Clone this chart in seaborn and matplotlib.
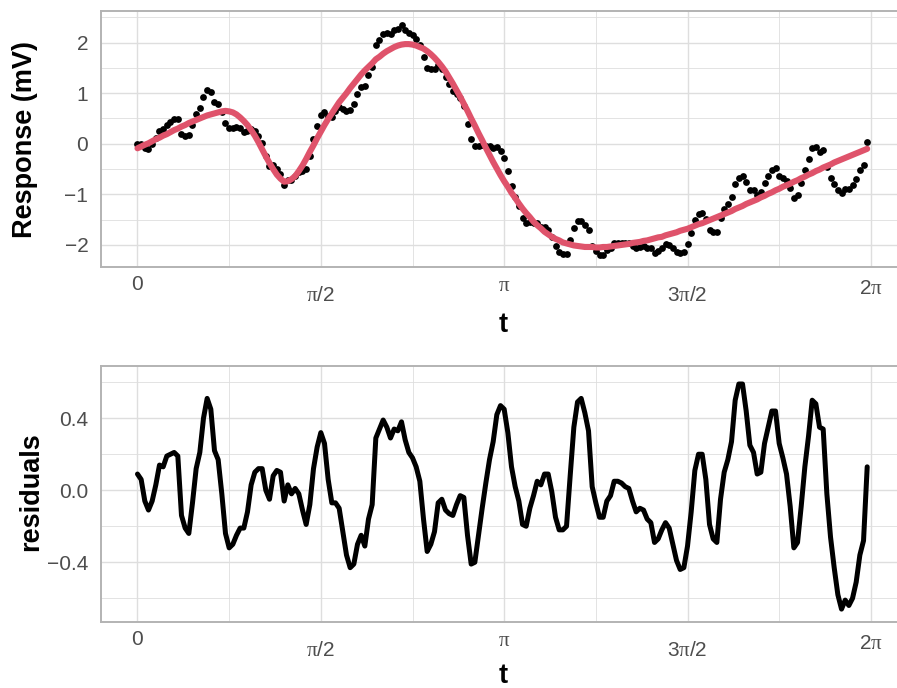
import numpy as np
import pandas as pd
import matplotlib
matplotlib.use("Agg")
import matplotlib.pyplot as plt
import matplotlib.transforms as mtransforms
from matplotlib.ticker import FixedLocator
import seaborn as sns

# ---- data -------------------------------------------------------------
n_points = 200
t = 2 * np.pi * np.arange(n_points) / n_points

fitted = [
    -0.09, -0.055, -0.02, 0.01, 0.05, 0.09, 0.12, 0.16, 0.19, 0.23,
    0.27, 0.30, 0.34, 0.37, 0.41, 0.44, 0.47, 0.50, 0.53, 0.56,
    0.58, 0.60, 0.62, 0.64, 0.65, 0.64, 0.62, 0.58, 0.52, 0.45,
    0.37, 0.27, 0.16, 0.03, -0.11, -0.25, -0.38, -0.50, -0.61, -0.69,
    -0.75, -0.74, -0.70, -0.64, -0.54, -0.43, -0.30, -0.16, -0.03, 0.11,
    0.24, 0.37, 0.49, 0.60, 0.71, 0.82, 0.91, 1.00, 1.10, 1.19,
    1.28, 1.37, 1.45, 1.52, 1.59, 1.67, 1.72, 1.78, 1.83, 1.87,
    1.91, 1.94, 1.96, 1.97, 1.97, 1.96, 1.94, 1.91, 1.88, 1.83,
    1.77, 1.70, 1.62, 1.53, 1.43, 1.31, 1.19, 1.06, 0.93, 0.79,
    0.65, 0.50, 0.36, 0.21, 0.07, -0.08, -0.22, -0.36, -0.49, -0.62,
    -0.74, -0.85, -0.97, -1.07, -1.18, -1.28, -1.37, -1.45, -1.54, -1.61,
    -1.67, -1.74, -1.79, -1.84, -1.88, -1.91, -1.95, -1.97, -1.99, -2.01,
    -2.02, -2.03, -2.04, -2.04, -2.04, -2.05, -2.05, -2.04, -2.04, -2.03,
    -2.02, -2.01, -2.00, -1.99, -1.98, -1.96, -1.95, -1.94, -1.92, -1.91,
    -1.89, -1.87, -1.85, -1.84, -1.81, -1.79, -1.77, -1.75, -1.72, -1.70,
    -1.68, -1.65, -1.62, -1.59, -1.57, -1.54, -1.51, -1.48, -1.45, -1.42,
    -1.39, -1.36, -1.33, -1.29, -1.26, -1.23, -1.19, -1.16, -1.13, -1.10,
    -1.06, -1.03, -0.99, -0.96, -0.92, -0.89, -0.85, -0.82, -0.79, -0.75,
    -0.72, -0.68, -0.65, -0.61, -0.58, -0.54, -0.51, -0.47, -0.44, -0.41,
    -0.37, -0.34, -0.31, -0.28, -0.25, -0.22, -0.19, -0.16, -0.13, -0.10,
]

residuals = [
    0.09, 0.06, -0.06, -0.11, -0.06, 0.03, 0.14, 0.13, 0.19, 0.20,
    0.21, 0.19, -0.14, -0.21, -0.24, -0.07, 0.12, 0.21, 0.40, 0.51,
    0.45, 0.22, 0.17, -0.02, -0.24, -0.32, -0.30, -0.25, -0.21, -0.21,
    -0.12, 0.03, 0.10, 0.12, 0.12, 0.00, -0.05, 0.08, 0.11, 0.10,
    -0.06, 0.03, -0.02, 0.01, -0.02, -0.11, -0.19, -0.08, 0.12, 0.24,
    0.32, 0.26, 0.06, -0.07, -0.07, -0.10, -0.23, -0.36, -0.43, -0.41,
    -0.30, -0.25, -0.31, -0.16, -0.08, 0.29, 0.34, 0.39, 0.35, 0.29,
    0.34, 0.33, 0.38, 0.28, 0.21, 0.18, 0.13, 0.05, -0.16, -0.34,
    -0.30, -0.23, -0.07, -0.05, -0.11, -0.13, -0.14, -0.08, -0.03, -0.04,
    -0.25, -0.41, -0.40, -0.25, -0.10, 0.04, 0.17, 0.27, 0.42, 0.47,
    0.45, 0.32, 0.13, 0.02, -0.06, -0.19, -0.20, -0.10, -0.03, 0.05,
    0.03, 0.09, 0.09, -0.01, -0.15, -0.22, -0.22, -0.20, 0.08, 0.35,
    0.49, 0.51, 0.43, 0.33, 0.02, -0.07, -0.15, -0.15, -0.06, -0.03,
    0.05, 0.05, 0.04, 0.02, 0.01, -0.06, -0.12, -0.10, -0.11, -0.16,
    -0.18, -0.29, -0.27, -0.22, -0.18, -0.21, -0.30, -0.39, -0.44, -0.43,
    -0.31, -0.12, 0.11, 0.20, 0.20, 0.06, -0.19, -0.27, -0.29, -0.05,
    0.10, 0.17, 0.27, 0.50, 0.59, 0.59, 0.44, 0.25, 0.21, 0.09,
    0.10, 0.26, 0.35, 0.44, 0.44, 0.26, 0.18, 0.09, -0.09, -0.32,
    -0.29, -0.09, 0.13, 0.30, 0.50, 0.48, 0.35, 0.34, -0.02, -0.26,
    -0.43, -0.58, -0.66, -0.61, -0.64, -0.60, -0.51, -0.36, -0.28, 0.13,
]

response = np.array(fitted) + np.array(residuals)

df = pd.DataFrame({"t": t, "response": response,
                   "fitted": fitted, "residuals": residuals})

x_breaks = [0, np.pi / 2, np.pi, 3 * np.pi / 2, 2 * np.pi]
x_labels = ["0", r"$\mathrm{\pi}$/2", r"$\mathrm{\pi}$",
            r"3$\mathrm{\pi}$/2", r"2$\mathrm{\pi}$"]
x_minor = [np.pi / 4, 3 * np.pi / 4, 5 * np.pi / 4, 7 * np.pi / 4]

top_breaks = [-2, -1, 0, 1, 2]
top_labels = ["\u22122", "\u22121", "0", "1", "2"]
top_minor = [-1.5, -0.5, 0.5, 1.5, 2.5]

bottom_breaks = [-0.4, 0.0, 0.4]
bottom_labels = ["\u22120.4", "0.0", "0.4"]
bottom_minor = [-0.6, -0.2, 0.2, 0.6]

# ---- style ------------------------------------------------------------
sns.set_theme(style="white")
plt.rcParams["font.family"] = ["Liberation Sans", "DejaVu Sans"]
plt.rcParams["mathtext.fontset"] = "custom"
plt.rcParams["mathtext.rm"] = "Liberation Serif"

W, H = 897, 688
fig = plt.figure(figsize=(W / 100, H / 100), dpi=100)


def px_rect(left, top, right, bottom):
    return [left / W, 1 - bottom / H, (right - left) / W, (bottom - top) / H]


ax_top = fig.add_axes(px_rect(101, 10.7, 897, 266.7))
ax_bot = fig.add_axes(px_rect(101, 366, 897, 621.7))

x_lim = (-0.3126, -0.3126 + (897 - 101) / 116.72)

grid_col = "#DEDEDE"
frame_col = "#B3B3B3"
text_col = "#4D4D4D"
tick_size = 15
title_size = 19.5

for ax, yb, yl, ym, ylim in [
    (ax_top, top_breaks, top_labels, top_minor, (-2.43, 2.63)),
    (ax_bot, bottom_breaks, bottom_labels, bottom_minor, (-0.73, 0.69)),
]:
    ax.set_xlim(*x_lim)
    ax.set_ylim(*ylim)
    ax.xaxis.set_major_locator(FixedLocator(x_breaks))
    ax.xaxis.set_minor_locator(FixedLocator(x_minor))
    ax.yaxis.set_major_locator(FixedLocator(yb))
    ax.yaxis.set_minor_locator(FixedLocator(ym))
    ax.set_xticklabels(x_labels)
    ax.set_yticklabels(yl)
    ax.grid(which="major", color=grid_col, linewidth=1.0, zorder=0)
    ax.grid(which="minor", color=grid_col, linewidth=0.6, zorder=0)
    ax.set_axisbelow(True)
    for side in ("left", "top", "bottom"):
        ax.spines[side].set_color(frame_col)
        ax.spines[side].set_linewidth(1.4)
    ax.spines["right"].set_visible(False)
    ax.tick_params(which="major", length=3.6, width=1.0, color=frame_col,
                   labelcolor=text_col, labelsize=tick_size)
    ax.tick_params(axis="x", which="major", pad=2.5)
    ax.tick_params(axis="y", which="major", pad=5.5)
    ax.tick_params(which="minor", length=0)

# ---- top panel: observed response and fitted curve --------------------
sns.scatterplot(data=df, x="t", y="response", ax=ax_top, color="black",
                s=24, linewidth=0, zorder=3, legend=False)
sns.lineplot(data=df, x="t", y="fitted", ax=ax_top, color="#DF536B",
             linewidth=4.4, zorder=4, legend=False)

# ---- bottom panel: residuals ------------------------------------------
sns.lineplot(data=df, x="t", y="residuals", ax=ax_bot, color="black",
             linewidth=3.6, zorder=3, legend=False)

for ax in (ax_top, ax_bot):
    ax.set_xlabel("")
    ax.set_ylabel("")
    # fraction labels sit lower, as their slash reaches below the baseline
    for lab, dy in zip(ax.get_xticklabels(), [0, -11, -1, -11, -4]):
        lab.set_transform(lab.get_transform() + mtransforms.ScaledTranslation(
            0, dy / 100, fig.dpi_scale_trans))

# ---- axis titles ------------------------------------------------------
fig.text(503 / W, 1 - 325 / H, "t", ha="center", va="center",
         fontsize=title_size, fontweight="bold", color="black")
fig.text(503 / W, 1 - 676 / H, "t", ha="center", va="center",
         fontsize=title_size, fontweight="bold", color="black")
fig.text(25 / W, 1 - 139 / H, "Response (mV)", rotation=90, ha="center",
         va="center", fontsize=title_size, fontweight="bold", color="black")
fig.text(31 / W, 1 - 492 / H, "residuals", rotation=90, ha="center",
         va="center", fontsize=title_size, fontweight="bold", color="black")

fig.savefig("out.png", dpi=100, facecolor="white")
